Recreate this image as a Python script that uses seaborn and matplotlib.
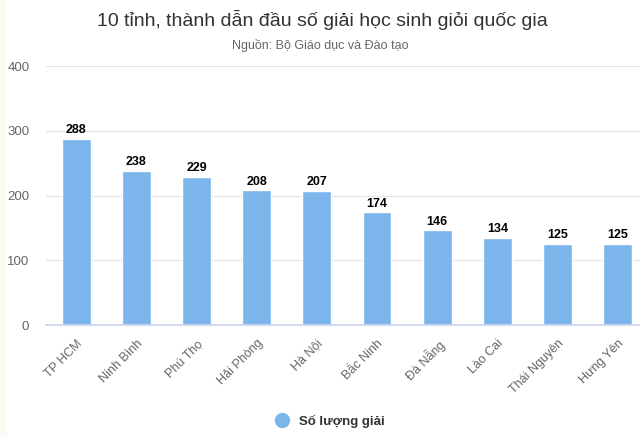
import matplotlib
matplotlib.use("Agg")
from matplotlib import pyplot as plt
from matplotlib.lines import Line2D
from matplotlib.patches import Rectangle
import seaborn as sns
import pandas as pd

# values
PROVINCES = ["TP HCM", "Ninh Bình", "Phú Thọ", "Hải Phòng", "Hà Nội", "Bắc Ninh", "Đà Nẵng", "Lào Cai", "Thái Nguyên", "Hưng Yên"]
AWARDS = [288, 238, 229, 208, 207, 174, 146, 134, 125, 125]
Y_TICKS = [0, 100, 200, 300, 400]
BLUE = "#7cb5ec"

sns.set_theme(style="white")
plt.rcParams["font.family"] = ["Liberation Sans", "DejaVu Sans"]

df = pd.DataFrame({"province": PROVINCES, "awards": AWARDS})

fig = plt.figure(figsize=(6.4, 4.37), dpi=100)
# thin cream strip down the left edge of the screenshot
fig.patches.append(Rectangle((0, 0), 7 / 640, 1, transform=fig.transFigure, color="#fbfaf5", lw=0))

ax = fig.add_axes([46 / 640, 1 - 325 / 437, 594 / 640, (325 - 66) / 437])
sns.barplot(data=df, x="province", y="awards", color=BLUE, saturation=1, width=0.48, ax=ax)

ax.set_xlim(-0.5, 9.37)
ax.set_ylim(0, 400)
ax.set_yticks(Y_TICKS)
ax.set_xlabel("")
ax.set_ylabel("")
ax.grid(axis="y", color="#e6e6e6", lw=1)
ax.set_axisbelow(True)
sns.despine(ax=ax, left=True, right=True, top=True)
ax.spines["bottom"].set_color("#ccd6eb")
ax.tick_params(axis="y", length=0, labelsize=9.5, labelcolor="#666666", pad=12)
ax.tick_params(axis="x", length=0, labelsize=9, labelcolor="#666666", pad=9)
for lab in ax.get_xticklabels():
    lab.set_rotation(45)
    lab.set_ha("right")
    lab.set_rotation_mode("anchor")

for i, v in enumerate(AWARDS):
    ax.annotate(str(v), (i, v), xytext=(0, 2), textcoords="offset points", ha="center", va="bottom",
                fontsize=9, fontweight="bold", color="black")

fig.text(322 / 640, 1 - 20 / 437, "10 tỉnh, thành dẫn đầu số giải học sinh giỏi quốc gia", ha="center", va="center", fontsize=14, color="#333333")
fig.text(320 / 640, 1 - 45 / 437, "Nguồn: Bộ Giáo dục và Đào tạo", ha="center", va="center", fontsize=9, color="#666666")

handle = Line2D([], [], marker="o", ls="", color=BLUE, markersize=10)
fig.legend([handle], ["Số lượng giải"], loc="center", bbox_to_anchor=(327 / 640, 1 - 421 / 437), frameon=False,
           prop={"size": 9.5, "weight": "bold"}, labelcolor="#333333", handletextpad=0.3)

fig.savefig("out.png", dpi=100)
